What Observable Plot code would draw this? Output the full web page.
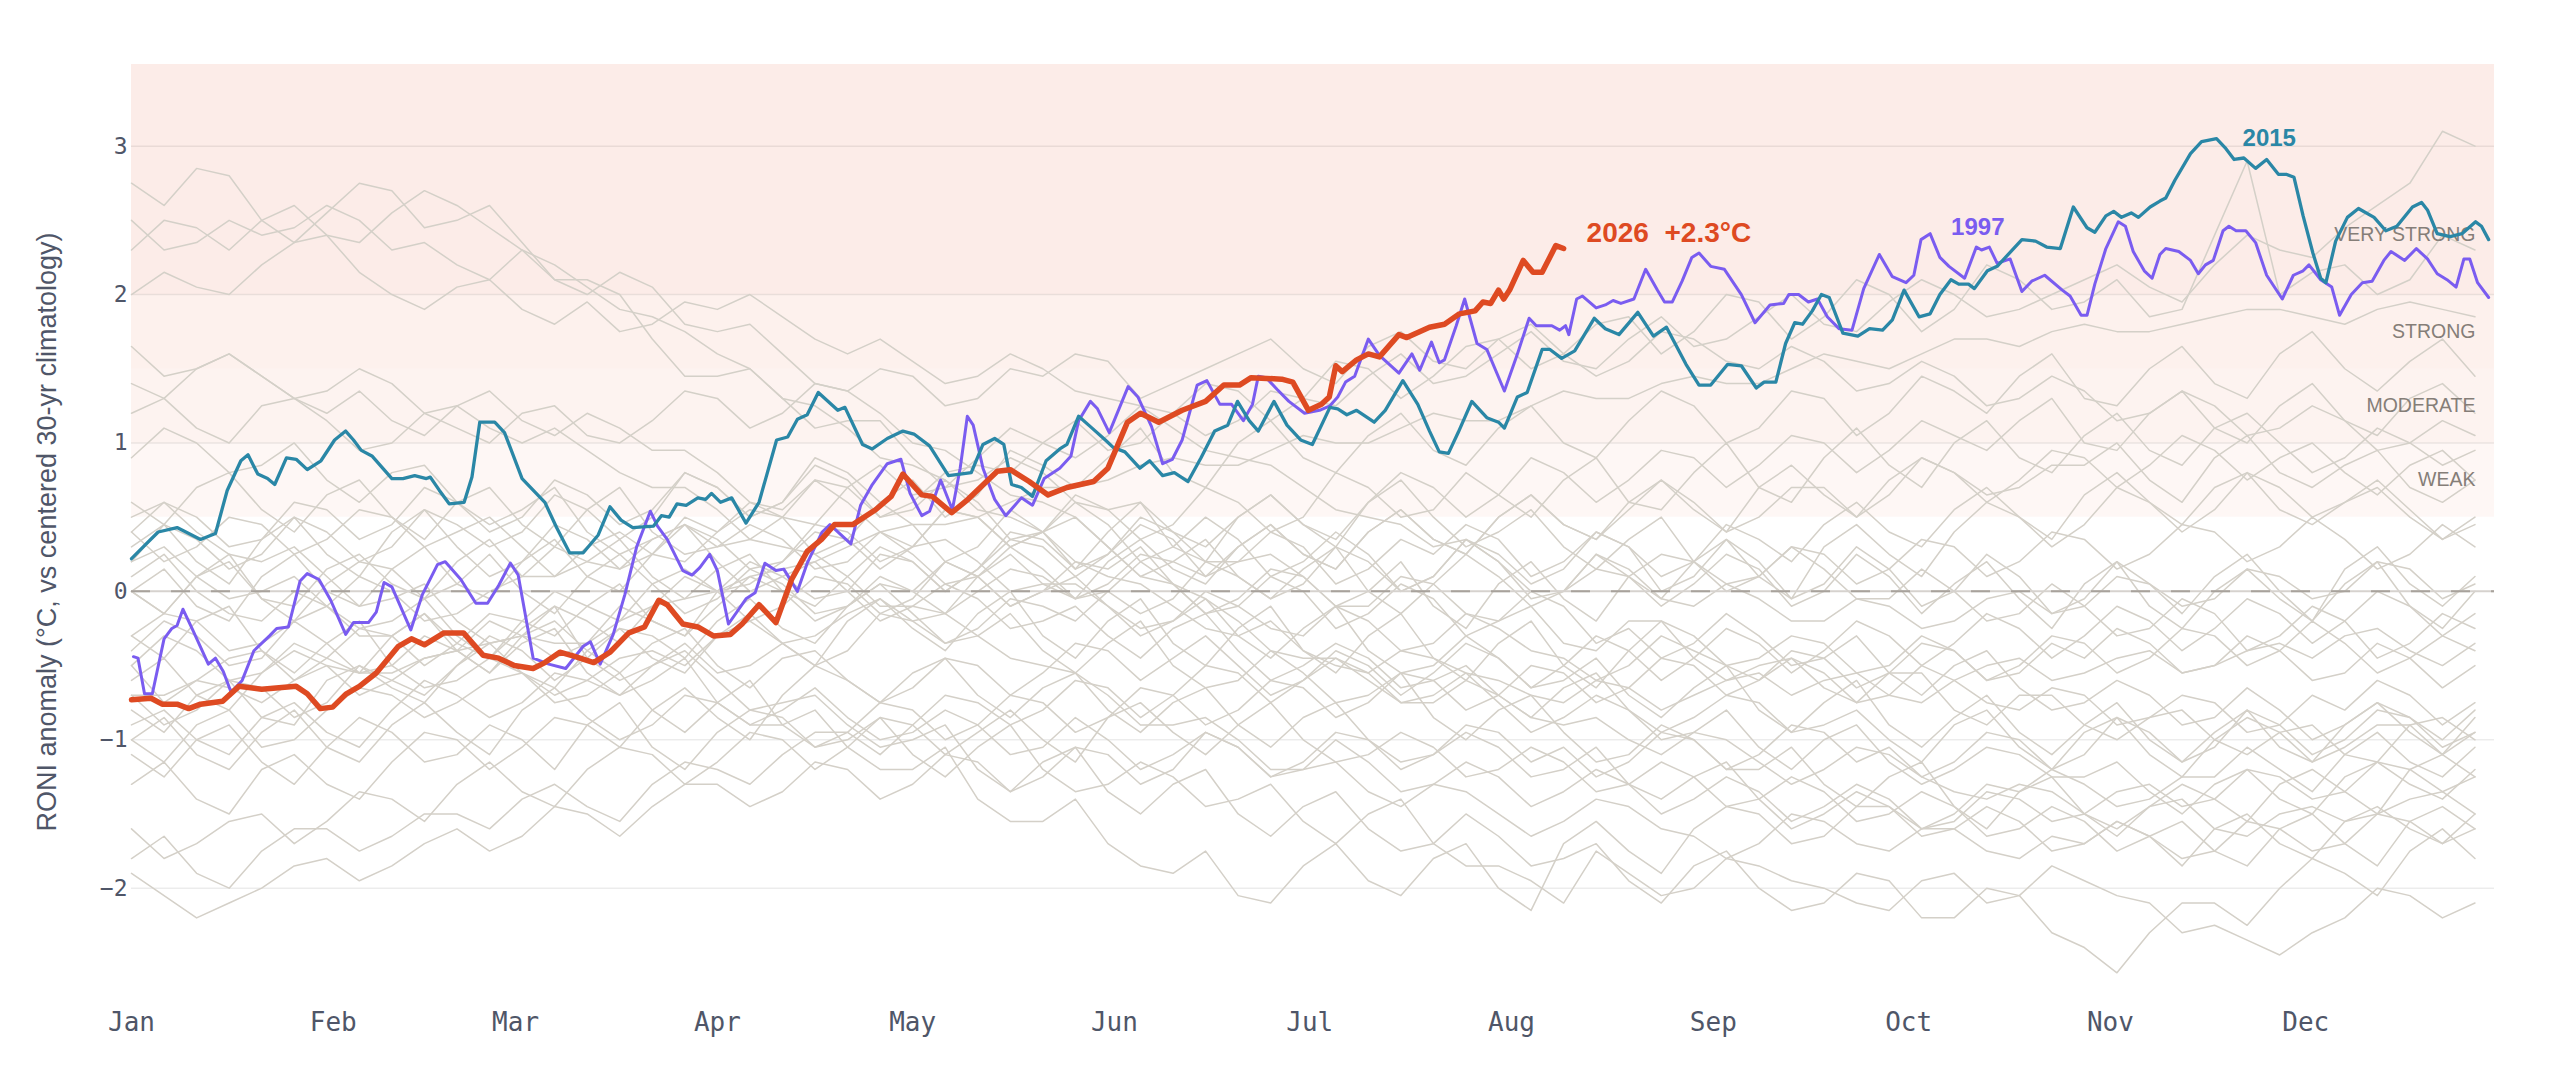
<!DOCTYPE html>
<html>
<head>
<meta charset="utf-8">
<script src="https://cdn.jsdelivr.net/npm/d3@7"></script>
<script src="https://cdn.jsdelivr.net/npm/@observablehq/plot@0.6"></script>
<style>
  html, body { margin: 0; padding: 0; background: #ffffff; }
  #chart { width: 2560px; height: 1090px; }
</style>
</head>
<body>
<div id="chart"></div>
<script>
// ---------- axis / category data ----------
const monthNames = ["Jan","Feb","Mar","Apr","May","Jun","Jul","Aug","Sep","Oct","Nov","Dec"];
const monthStart = [0,31,59,90,120,151,181,212,243,273,304,334];
const yTicks = [-2,-1,0,1,2,3];
const yTitle = "RONI anomaly (°C, vs centered 30-yr climatology)";

// strength bands (°C)
const bandNames = ["WEAK","MODERATE","STRONG","VERY STRONG"];
const bandLo = [0.5, 1.0, 1.5, 2.0];
const bandHi = [1.0, 1.5, 2.0, 3.55];
const bandLabelY = [0.75, 1.25, 1.75, 2.4];

// ---------- highlighted years (day of year, anomaly) ----------
const days2026 = [0,3,4.7,7,8.8,10.6,14,16.5,20,25.3,27,29,30.9,33,35,37.6,41,43,45,48,51,54,56.4,58.8,61.7,63.5,65.8,68.2,71,73.5,76.4,78.8,81,82.3,84.7,87,89.4,92,93.8,96.4,99,101.4,103.8,106,108,110.8,114.3,116.7,118.5,121.4,123,126,128.5,133,135,137.9,140.8,143.7,147.8,150,153,155,157.8,161.4,165,167.8,170.2,172,176.7,178.4,180.8,182.8,184,185,186,188.2,190,191.7,194.7,195.9,199.4,201.7,204,206.4,207.6,208.8,210,210.8,211.7,213.8,215.3,216.7,218.8,220];
const vals2026 = [-0.73,-0.72,-0.76,-0.76,-0.79,-0.76,-0.74,-0.64,-0.66,-0.64,-0.69,-0.79,-0.78,-0.69,-0.64,-0.55,-0.37,-0.32,-0.36,-0.28,-0.28,-0.43,-0.45,-0.50,-0.52,-0.48,-0.41,-0.44,-0.48,-0.41,-0.28,-0.24,-0.06,-0.09,-0.22,-0.24,-0.30,-0.29,-0.22,-0.09,-0.21,0.08,0.27,0.35,0.45,0.45,0.55,0.64,0.79,0.65,0.64,0.53,0.62,0.81,0.82,0.74,0.65,0.70,0.74,0.83,1.14,1.20,1.14,1.22,1.28,1.39,1.39,1.44,1.43,1.41,1.22,1.26,1.31,1.52,1.48,1.56,1.60,1.58,1.73,1.71,1.78,1.80,1.87,1.89,1.95,1.94,2.03,1.97,2.03,2.23,2.15,2.15,2.33,2.31];

const days1997 = [0.3,1,2,3.2,5,6.2,7,7.9,9.4,11.8,12.9,14.1,15.3,17,18.8,21.2,22.3,24.1,25.9,27,28.8,30.6,32.9,34.1,36.4,37.6,38.8,40,42.9,44.7,47,48.2,50.6,52.9,54.7,56.4,58.2,59.4,61.7,64.1,66.7,69.4,70.5,72,74,75.8,77.6,79.7,80.8,82.3,84.7,86.1,87.3,88.8,90,91.7,94.4,95.8,97.3,99,100.2,102.3,103.8,106.1,107.3,109,110.5,112,113.8,116.1,118.2,119.6,121.4,122.6,124.3,126.1,127.3,128.4,129.3,130.8,132.6,134.3,136.7,138.4,140.2,142.6,144.3,145.5,147.3,148.4,150.2,153.1,154.6,156.7,158.4,159.9,161.4,163.7,165.2,167.2,169,170.8,172.2,173.1,174.3,176,177.8,180.2,182.5,184.1,185.3,186.5,187.9,190,191.7,194.7,196.7,197.9,199.7,200.9,201.7,203.5,204.8,206.7,208.2,210.9,212.9,214.7,215.8,218.2,219.4,220.3,220.8,222,222.9,225,226.4,227.6,228.8,230.8,232.6,234.4,235.5,236.7,238.2,239.7,240.8,242.6,244.7,247.3,249.4,251.7,253.8,254.6,256.1,257.6,259,260.5,262.3,264.3,266.1,268.5,270.5,272.6,273.8,274.9,276.3,277.8,279.2,281.6,283.4,284.2,285.4,286.6,288.6,290.4,291.9,293.9,296.6,297.8,299.5,300.4,301.6,303.3,305.2,306.3,307.5,309.2,310.4,311.6,312.5,314.5,316.3,317.5,318.6,319.8,321.3,322.2,323.3,324.8,326.3,328,330.4,332.1,333.6,334.5,336.3,338,339.2,341,342.7,344.2,346,347.1,349.2,351,352.7,354.2,355.7,357.1,358.3,359.2,360.4,362.1];
const vals1997 = [-0.44,-0.45,-0.69,-0.69,-0.32,-0.25,-0.23,-0.12,-0.26,-0.49,-0.45,-0.54,-0.68,-0.60,-0.40,-0.30,-0.25,-0.24,0.07,0.12,0.08,-0.06,-0.29,-0.21,-0.21,-0.14,0.06,0.03,-0.26,-0.02,0.18,0.20,0.08,-0.08,-0.08,0.04,0.19,0.11,-0.45,-0.49,-0.52,-0.37,-0.34,-0.49,-0.29,-0.02,0.30,0.54,0.44,0.35,0.14,0.11,0.16,0.25,0.14,-0.22,-0.05,-0.01,0.19,0.14,0.15,0.00,0.19,0.40,0.45,0.38,0.32,0.58,0.72,0.86,0.89,0.66,0.51,0.54,0.75,0.55,0.83,1.18,1.12,0.83,0.62,0.51,0.63,0.58,0.76,0.83,0.91,1.15,1.28,1.23,1.07,1.38,1.31,1.11,0.86,0.89,1.02,1.39,1.42,1.26,1.26,1.15,1.26,1.45,1.44,1.36,1.28,1.20,1.22,1.25,1.31,1.41,1.45,1.70,1.59,1.47,1.60,1.49,1.68,1.54,1.56,1.79,1.97,1.67,1.63,1.35,1.60,1.84,1.79,1.79,1.76,1.79,1.73,1.97,1.99,1.91,1.93,1.96,1.94,1.97,2.17,2.03,1.95,1.95,2.09,2.25,2.28,2.19,2.17,2.00,1.81,1.93,1.94,2.00,2.00,1.95,1.97,1.85,1.77,1.76,2.04,2.27,2.12,2.08,2.13,2.37,2.41,2.25,2.19,2.11,2.32,2.30,2.32,2.21,2.24,2.02,2.09,2.13,2.03,1.99,1.86,1.86,2.07,2.31,2.49,2.46,2.29,2.16,2.11,2.27,2.31,2.29,2.23,2.14,2.20,2.23,2.43,2.46,2.43,2.43,2.35,2.13,1.97,2.13,2.16,2.20,2.10,2.05,1.86,2.00,2.08,2.09,2.23,2.29,2.23,2.31,2.24,2.14,2.10,2.05,2.24,2.24,2.08,1.98];

const days2015 = [0,1.8,4.1,7,8.8,10.6,12.9,14.7,16.8,17.9,19.4,20.9,22,23.8,25.3,27,29.1,31.2,32.9,34.1,35.3,37,40,41.7,43.5,45.3,45.9,47.3,48.8,51.1,52.3,53.5,55.8,57.3,60,63.5,65.3,67.3,69.4,71.7,73.5,75.2,77,80.2,81.4,82.6,83.8,85.2,87,88.2,89.1,90.5,92.2,94.4,96.4,99.1,100.8,102.3,103.8,105.5,108.5,109.6,112.3,113.8,116.1,118.5,120.2,122.6,125.5,127.3,129,130.8,132.6,134,135.2,136.7,138.4,140.5,142.6,143.7,145.5,147.3,149.6,150.8,152.6,154.9,156.4,158.4,160.2,162.3,164.3,166.4,168.4,169.9,171.7,173.1,175.5,177.5,179.6,181.4,184.1,185.3,186.7,188.2,190.9,192.6,195.3,197.6,199.4,200.9,202.3,203.8,205.9,208.2,210,210.9,212.9,214.4,216.7,217.9,219.7,221.7,224.7,226.4,228.5,231.4,233.8,235.8,238.8,240.8,242.6,245.2,247.3,249.6,250.8,252.6,254.1,255.5,256.7,258.2,259.6,260.8,262.9,265.2,267,269,270.5,272.3,274.6,276.3,277.8,279.5,280.7,282.2,283.1,285.1,286.6,290.4,292.5,294.2,296.3,298.3,300.4,301.6,303.3,304.5,305.7,307.2,308.3,310.1,311.6,312.5,313.9,316.3,318,320.3,321.6,323,324.5,326.3,328,329.8,331,332.2,333.6,335.1,336.3,337.1,338.6,340.4,342.1,344.5,346.3,348,350.4,351.8,352.7,354.2,356.2,358,360.1,361,362.1];
const vals2015 = [0.22,0.30,0.40,0.43,0.39,0.35,0.39,0.68,0.88,0.92,0.79,0.76,0.72,0.90,0.89,0.82,0.88,1.02,1.08,1.02,0.95,0.91,0.76,0.76,0.78,0.76,0.77,0.68,0.59,0.60,0.77,1.14,1.14,1.07,0.76,0.60,0.43,0.26,0.26,0.38,0.57,0.48,0.43,0.44,0.51,0.50,0.59,0.58,0.63,0.62,0.66,0.60,0.63,0.46,0.60,1.02,1.04,1.16,1.19,1.34,1.22,1.24,0.99,0.96,1.03,1.08,1.06,0.98,0.78,0.79,0.80,0.99,1.03,0.99,0.72,0.70,0.64,0.88,0.96,0.99,1.18,1.11,1.02,0.97,0.94,0.83,0.88,0.78,0.80,0.74,0.90,1.08,1.12,1.28,1.15,1.08,1.28,1.12,1.02,0.99,1.24,1.23,1.19,1.22,1.14,1.22,1.42,1.26,1.08,0.94,0.93,1.07,1.28,1.17,1.14,1.10,1.31,1.34,1.63,1.63,1.57,1.62,1.84,1.77,1.73,1.88,1.72,1.78,1.53,1.39,1.39,1.53,1.52,1.37,1.41,1.41,1.67,1.81,1.80,1.89,2.00,1.98,1.74,1.72,1.77,1.76,1.83,2.03,1.85,1.87,2.00,2.10,2.07,2.07,2.04,2.16,2.19,2.37,2.36,2.32,2.31,2.59,2.45,2.42,2.53,2.56,2.52,2.55,2.52,2.59,2.63,2.65,2.77,2.95,3.03,3.05,2.99,2.91,2.92,2.85,2.91,2.81,2.81,2.79,2.53,2.28,2.11,2.08,2.36,2.52,2.58,2.52,2.43,2.46,2.59,2.62,2.57,2.41,2.39,2.41,2.49,2.46,2.37];

// ---------- other years (every 5 days) ----------
const grayDays = [0,5,10,15,20,25,30,35,40,45,50,55,60,65,70,75,80,85,90,95,100,105,110,115,120,125,130,135,140,145,150,155,160,165,170,175,180,185,190,195,200,205,210,215,220,225,230,235,240,245,250,255,260,265,270,275,280,285,290,295,300,305,310,315,320,325,330,335,340,345,350,355,360];
const gray01 = [2.75,2.6,2.85,2.8,2.5,2.35,2.55,2.75,2.7,2.45,2.5,2.6,2.35,2.1,2.1,2.0,1.7,1.45,1.45,1.5,1.3,1.1,1.15,1.15,0.9,0.7,0.75,0.9,0.8,0.6,0.55,0.6,0.4,0.2,0.2,0.25,0.1,-0.1,-0.1,0.1,0.05,-0.15,-0.2,-0.1,-0.35,-0.4,-0.2,-0.2,-0.45,-0.6,-0.5,-0.45,-0.65,-0.75,-0.55,-0.55,-0.8,-0.9,-0.7,-0.7,-0.9,-1.0,-0.85,-0.8,-1.0,-1.1,-0.95,-0.9,-1.1,-1.15,-0.9,-0.85,-1.0];
const gray02 = [2.3,2.5,2.45,2.3,2.5,2.6,2.4,2.35,2.55,2.7,2.6,2.45,2.3,2.1,2.0,2.15,2.05,1.8,1.75,1.8,1.6,1.4,1.35,1.2,1.0,0.95,0.8,0.65,0.6,0.5,0.3,0.1,0.05,-0.05,-0.2,-0.4,-0.45,-0.45,-0.6,-0.75,-0.75,-0.6,-0.7,-0.85,-0.9,-0.85,-1.0,-1.1,-0.95,-1.0,-1.15,-1.3,-1.2,-1.05,-1.1,-1.25,-1.35,-1.4,-1.3,-1.35,-1.5,-1.6,-1.45,-1.4,-1.6,-1.65,-1.5,-1.45,-1.55,-1.5,-1.4,-1.35,-1.5];
const gray03 = [2.5,2.3,2.35,2.5,2.4,2.45,2.6,2.5,2.3,2.35,2.2,2.1,2.3,2.2,2.05,1.9,1.85,1.75,1.6,1.5,1.3,1.25,1.1,0.9,0.85,0.75,0.55,0.5,0.4,0.2,0.1,0.05,-0.1,-0.25,-0.3,-0.2,-0.4,-0.5,-0.55,-0.4,-0.45,-0.55,-0.6,-0.7,-0.75,-0.6,-0.65,-0.8,-0.7,-0.6,-0.55,-0.7,-0.6,-0.55,-0.7,-0.75,-0.6,-0.5,-0.45,-0.6,-0.55,-0.45,-0.4,-0.55,-0.5,-0.4,-0.35,-0.45,-0.3,-0.25,-0.4,-0.5,-0.35];
const gray04 = [2.0,2.15,2.05,2.0,2.2,2.35,2.4,2.15,2.0,1.9,2.05,2.1,1.9,1.8,1.95,1.75,1.8,1.95,1.9,2.0,1.85,1.7,1.6,1.7,1.55,1.4,1.45,1.6,1.5,1.35,1.3,1.25,1.1,0.95,0.9,0.85,0.7,0.55,0.5,0.45,0.3,0.35,0.2,0.0,0.0,0.15,0.1,-0.05,-0.1,0.05,-0.05,-0.2,-0.2,-0.05,-0.1,-0.25,-0.2,-0.05,0.0,-0.15,-0.1,0.1,0.05,-0.1,-0.05,0.15,0.1,-0.05,0.0,0.2,0.15,-0.05,0.05];
const gray05 = [1.65,1.45,1.5,1.6,1.45,1.3,1.35,1.5,1.4,1.2,1.25,1.35,1.15,1.05,1.2,1.1,0.95,0.95,0.8,0.6,0.55,0.75,0.6,0.4,0.3,0.35,0.2,0.0,0.05,0.05,-0.1,-0.25,-0.2,0.0,-0.1,-0.25,-0.3,-0.1,-0.2,-0.4,-0.35,-0.15,-0.25,-0.4,-0.45,-0.6,-0.5,-0.3,-0.4,-0.5,-0.6,-0.45,-0.55,-0.75,-0.7,-0.5,-0.6,-0.75,-0.8,-0.65,-0.7,-0.9,-0.85,-0.7,-0.75,-0.95,-0.9,-0.7,-0.8,-0.6,-0.7,-0.9,-0.75];
const gray06 = [1.4,1.3,1.5,1.6,1.45,1.3,1.2,1.35,1.15,1.05,1.25,1.1,1.0,1.1,0.95,0.8,0.7,0.7,0.55,0.35,0.3,0.25,0.1,-0.1,-0.1,-0.15,-0.3,-0.45,-0.5,-0.55,-0.7,-0.9,-0.9,-0.85,-1.0,-1.2,-1.2,-1.15,-1.35,-1.45,-1.3,-1.35,-1.5,-1.65,-1.55,-1.4,-1.45,-1.6,-1.65,-1.8,-1.7,-1.5,-1.55,-1.7,-1.75,-1.6,-1.6,-1.75,-1.8,-1.65,-1.7,-1.55,-1.65,-1.8,-1.75,-1.55,-1.6,-1.75,-1.7,-1.5,-1.55,-1.7,-1.6];
const gray07 = [1.2,1.3,1.1,1.0,1.25,1.3,1.15,0.95,1.0,1.2,1.1,1.0,1.2,1.25,1.05,1.0,1.15,1.35,1.3,1.1,1.2,1.4,1.35,1.5,1.45,1.25,1.3,1.5,1.45,1.6,1.55,1.3,1.4,1.5,1.6,1.7,1.5,1.4,1.65,1.75,1.55,1.5,1.7,1.8,1.6,1.45,1.55,1.75,1.7,1.55,1.5,1.65,1.55,1.35,1.4,1.55,1.45,1.25,1.3,1.45,1.35,1.15,1.2,1.35,1.25,1.05,1.1,1.25,1.15,0.95,1.0,1.15,1.05];
const gray08 = [0.0,-0.15,0.1,0.2,-0.05,-0.1,0.15,0.25,0.05,-0.05,0.2,0.35,0.1,0.1,0.3,0.4,0.25,0.2,0.4,0.55,0.5,0.45,0.7,0.85,0.65,0.7,0.9,1.1,1.0,0.9,1.05,1.25,1.2,1.05,1.15,1.35,1.3,1.25,1.45,1.6,1.4,1.45,1.6,1.75,1.55,1.5,1.7,1.85,1.65,1.7,1.85,2.0,1.8,1.75,1.95,2.1,2.0,1.85,1.9,2.0,2.1,2.2,2.05,1.95,2.2,2.4,2.3,2.25,2.45,2.6,2.75,3.1,3.0];
const gray09 = [-0.3,-0.15,-0.2,-0.4,-0.35,-0.2,-0.1,0.1,0.0,-0.2,-0.15,0.0,0.1,0.3,0.2,0.15,0.35,0.45,0.3,0.35,0.5,0.75,0.7,0.5,0.6,0.8,0.85,0.8,1.0,1.15,0.95,1.0,1.2,1.4,1.35,1.15,1.3,1.55,1.5,1.3,1.45,1.65,1.7,1.5,1.6,1.8,1.85,1.6,1.75,2.0,1.95,1.7,1.85,2.1,2.0,1.75,1.9,2.2,2.1,1.9,1.95,2.1,1.85,1.9,2.4,2.9,2.0,2.15,2.2,2.0,2.1,2.4,2.3];
const gray10 = [0.2,0.45,0.35,0.15,0.25,0.5,0.4,0.2,0.3,0.55,0.45,0.3,0.4,0.65,0.55,0.35,0.5,0.8,0.7,0.5,0.6,0.9,0.8,0.6,0.75,0.5,0.65,0.95,0.85,0.7,0.9,1.1,0.8,0.7,1.0,1.15,0.9,0.8,1.05,1.2,0.95,0.85,1.1,1.25,1.0,0.9,1.15,1.35,1.25,1.0,1.1,1.35,1.3,1.05,1.2,1.45,1.35,1.2,1.45,1.6,1.3,1.25,1.5,1.65,1.4,1.3,1.6,1.75,1.5,1.35,1.55,1.7,1.45];
const gray11 = [-0.7,-0.7,-0.6,-0.65,-0.75,-0.6,-0.5,-0.55,-0.55,-0.45,-0.4,-0.35,-0.3,-0.35,-0.35,-0.2,-0.1,-0.05,0.0,0.1,0.15,0.2,0.3,0.4,0.45,0.45,0.5,0.6,0.7,0.7,0.75,0.85,0.9,0.85,0.85,0.95,1.05,1.0,1.0,1.1,1.2,1.15,1.15,1.25,1.35,1.3,1.3,1.4,1.45,1.4,1.4,1.5,1.6,1.55,1.5,1.6,1.7,1.7,1.65,1.75,1.8,1.75,1.75,1.8,1.85,1.9,1.9,1.85,1.8,1.9,1.95,1.9,1.85];
const gray12 = [0.0,0.15,-0.1,-0.2,0.1,0.25,0.0,-0.1,0.15,0.3,0.05,-0.05,0.2,0.35,0.1,0.0,0.25,0.45,0.35,0.15,0.2,0.45,0.4,0.2,0.3,0.55,0.5,0.3,0.4,0.65,0.55,0.35,0.45,0.7,0.6,0.4,0.5,0.8,0.7,0.5,0.55,0.8,0.65,0.5,0.75,0.9,0.6,0.55,0.8,1.0,0.7,0.6,0.9,1.1,0.85,0.7,1.0,1.15,0.9,0.8,1.05,1.2,0.95,0.85,1.1,1.2,1.0,0.8,0.9,1.1,1.0,0.85,0.95];
const gray13 = [-0.5,-0.75,-0.6,-0.45,-0.4,-0.6,-0.45,-0.25,-0.3,-0.5,-0.35,-0.15,-0.2,-0.3,-0.1,0.05,-0.2,-0.3,0.0,0.2,0.1,-0.05,0.0,0.25,0.2,0.0,0.15,0.35,0.3,0.1,0.25,0.5,0.4,0.3,0.5,0.65,0.45,0.35,0.6,0.8,0.7,0.5,0.65,0.9,0.8,0.6,0.75,0.95,0.9,0.7,0.85,1.05,1.0,0.8,0.95,1.15,1.05,0.95,1.15,1.3,1.0,0.95,1.2,1.35,1.1,1.0,1.25,1.4,1.15,1.05,1.3,1.4,1.2];
const gray14 = [-0.8,-0.95,-0.7,-0.6,-0.85,-0.9,-0.6,-0.5,-0.65,-0.75,-0.5,-0.3,-0.4,-0.6,-0.45,-0.25,-0.3,-0.45,-0.2,-0.05,-0.25,-0.35,-0.1,0.05,0.0,-0.15,0.1,0.25,0.05,-0.05,0.2,0.35,0.15,0.05,0.3,0.45,0.25,0.15,0.4,0.55,0.35,0.25,0.5,0.65,0.45,0.35,0.55,0.75,0.6,0.4,0.5,0.7,0.7,0.5,0.65,0.9,0.8,0.6,0.75,0.95,0.9,0.7,0.85,1.05,0.95,0.75,0.9,1.0,0.8,0.65,0.85,0.95,0.75];
const gray15 = [-0.9,-0.8,-1.0,-1.1,-0.85,-0.75,-0.95,-1.05,-0.8,-0.6,-0.7,-0.85,-0.75,-0.55,-0.6,-0.7,-0.5,-0.35,-0.55,-0.5,-0.35,-0.5,-0.4,-0.15,-0.2,-0.35,-0.25,-0.05,-0.1,-0.2,0.0,-0.15,-0.05,0.2,0.1,-0.05,0.05,0.3,0.2,0.0,0.1,0.35,0.25,0.05,0.15,0.4,0.3,0.1,0.2,0.45,0.35,0.2,0.45,0.6,0.4,0.3,0.55,0.7,0.5,0.35,0.65,0.8,0.6,0.45,0.7,0.8,0.55,0.45,0.6,0.7,0.5,0.35,0.45];
const gray16 = [0.3,0.45,0.2,0.05,0.35,0.5,0.25,0.1,0.4,0.55,0.3,0.1,0.2,0.45,0.35,0.15,0.25,0.5,0.4,0.6,0.5,0.25,0.35,0.6,0.45,0.2,0.3,0.55,0.4,0.15,0.25,0.45,0.35,0.1,0.2,0.4,0.3,0.05,0.15,0.35,0.25,0.45,0.35,0.1,0.2,0.4,0.3,0.0,0.1,0.35,0.2,-0.05,0.05,0.3,0.15,-0.1,0.0,0.25,0.1,-0.15,-0.05,0.2,0.05,-0.15,0.1,0.25,0.0,-0.2,0.15,0.3,0.05,-0.1,0.1];
const gray17 = [-0.6,-0.45,-0.7,-0.8,-0.55,-0.4,-0.5,-0.7,-0.6,-0.45,-0.4,-0.2,-0.3,-0.45,-0.35,-0.1,-0.2,-0.3,-0.1,0.1,0.0,-0.1,0.1,0.3,0.2,0.0,0.15,0.4,0.35,0.15,0.4,0.6,0.3,0.2,0.5,0.65,0.45,0.3,0.6,0.75,0.5,0.3,0.4,0.55,0.3,0.15,0.35,0.5,0.2,0.05,0.1,0.3,0.15,-0.05,-0.05,0.15,0.0,-0.2,-0.15,0.05,-0.1,-0.3,-0.25,-0.05,-0.15,-0.4,-0.3,-0.1,-0.2,-0.45,-0.35,-0.15,-0.25];
const gray18 = [-0.5,-0.3,-0.4,-0.6,-0.55,-0.35,-0.45,-0.55,-0.3,-0.15,-0.35,-0.45,-0.2,0.0,-0.1,-0.2,0.05,0.15,0.0,0.05,0.2,0.4,0.35,0.15,0.3,0.55,0.5,0.3,0.4,0.5,0.3,0.1,0.2,0.35,0.1,-0.05,0.15,0.3,0.0,-0.15,0.05,0.25,0.1,-0.1,0.0,0.25,0.15,-0.05,0.2,0.35,0.1,-0.05,0.3,0.45,0.25,0.1,0.4,0.6,0.5,0.3,0.45,0.7,0.6,0.4,0.55,0.8,0.7,0.5,0.6,0.75,0.55,0.35,0.5];
const gray19 = [0.4,0.6,0.5,0.3,0.35,0.6,0.55,0.35,0.45,0.7,0.6,0.4,0.5,0.75,0.65,0.45,0.55,0.8,0.7,0.5,0.6,0.85,0.75,0.5,0.55,0.75,0.6,0.35,0.4,0.6,0.45,0.2,0.3,0.5,0.35,0.1,0.2,0.4,0.25,0.0,0.1,0.35,0.2,-0.05,0.0,0.25,0.1,-0.1,0.05,0.25,0.15,-0.1,0.0,0.25,0.1,-0.15,0.05,0.2,-0.05,-0.25,0.05,0.2,-0.1,-0.25,0.0,0.15,-0.05,-0.2,0.05,0.2,-0.1,-0.25,0.0];
const gray20 = [-0.7,-0.9,-0.8,-0.6,-0.65,-0.85,-0.75,-0.5,-0.6,-0.7,-0.5,-0.35,-0.55,-0.65,-0.4,-0.25,-0.45,-0.55,-0.3,-0.15,-0.35,-0.5,-0.2,-0.05,-0.25,-0.4,-0.15,0.0,-0.3,-0.45,-0.2,-0.05,-0.35,-0.5,-0.25,-0.1,-0.4,-0.55,-0.3,-0.15,-0.45,-0.6,-0.35,-0.2,-0.5,-0.65,-0.4,-0.2,-0.3,-0.5,-0.45,-0.3,-0.35,-0.55,-0.5,-0.3,-0.4,-0.6,-0.55,-0.35,-0.45,-0.25,-0.35,-0.55,-0.5,-0.3,-0.4,-0.6,-0.55,-0.35,-0.45,-0.65,-0.5];
const gray21 = [0.9,1.1,1.0,0.8,0.85,1.0,0.75,0.6,0.8,0.85,0.6,0.45,0.55,0.7,0.4,0.25,0.35,0.45,0.2,0.0,0.1,0.2,0.0,-0.2,-0.1,0.05,-0.05,-0.25,-0.2,-0.1,-0.3,-0.45,-0.25,-0.15,-0.4,-0.6,-0.5,-0.35,-0.45,-0.65,-0.6,-0.5,-0.7,-0.85,-0.65,-0.55,-0.8,-0.95,-0.85,-0.7,-0.75,-0.95,-0.9,-0.8,-1.0,-1.15,-0.9,-0.8,-1.05,-1.2,-0.95,-0.85,-1.1,-1.25,-1.0,-0.85,-0.95,-1.15,-1.05,-0.9,-0.9,-1.1,-0.95];
const gray22 = [0.6,0.45,0.7,0.8,0.55,0.4,0.65,0.75,0.5,0.35,0.6,0.7,0.45,0.3,0.55,0.7,0.4,0.25,0.3,0.45,0.35,0.15,0.2,0.4,0.25,0.05,0.1,0.3,0.15,-0.05,0.0,0.2,0.05,-0.15,-0.1,0.1,0.0,-0.25,-0.15,0.05,-0.05,-0.3,-0.2,0.0,-0.1,-0.35,-0.25,-0.45,-0.35,-0.15,-0.3,-0.5,-0.45,-0.3,-0.55,-0.7,-0.5,-0.4,-0.65,-0.8,-0.75,-0.6,-0.7,-0.9,-0.85,-0.65,-0.8,-1.0,-0.9,-0.75,-0.85,-1.0,-0.8];
const gray23 = [0.5,0.6,0.4,0.25,0.2,0.3,0.1,-0.1,-0.05,0.05,-0.2,-0.35,-0.3,-0.2,-0.4,-0.55,-0.35,-0.25,-0.5,-0.65,-0.45,-0.4,-0.6,-0.75,-0.55,-0.45,-0.7,-0.85,-0.65,-0.55,-0.8,-0.95,-0.75,-0.65,-0.9,-1.05,-0.85,-0.75,-1.0,-1.15,-1.1,-0.95,-1.05,-1.25,-1.2,-1.05,-1.3,-1.4,-1.25,-1.15,-1.4,-1.6,-1.5,-1.35,-1.45,-1.65,-1.6,-1.45,-1.55,-1.75,-1.7,-1.55,-1.65,-1.85,-1.6,-1.5,-1.7,-1.8,-1.55,-1.45,-1.6,-1.7,-1.5];
const gray24 = [0.2,0.3,0.1,-0.05,0.0,0.1,-0.1,-0.25,-0.2,-0.05,-0.3,-0.45,-0.25,-0.1,-0.45,-0.6,-0.5,-0.4,-0.6,-0.8,-0.75,-0.7,-0.9,-1.05,-1.0,-0.9,-1.2,-1.35,-1.15,-1.05,-1.35,-1.5,-1.3,-1.2,-1.5,-1.65,-1.45,-1.35,-1.6,-1.75,-1.7,-1.5,-1.65,-1.85,-1.8,-1.7,-1.95,-2.1,-1.85,-1.75,-2.0,-2.15,-2.1,-1.9,-1.95,-2.2,-2.2,-2.0,-2.05,-2.3,-2.4,-2.57,-2.3,-2.1,-2.1,-2.25,-2.0,-1.8,-1.9,-2.05,-1.75,-1.6,-1.8];
const gray25 = [-1.6,-1.8,-1.7,-1.55,-1.5,-1.7,-1.55,-1.35,-1.4,-1.55,-1.3,-1.15,-1.35,-1.45,-1.2,-1.05,-1.1,-1.3,-1.15,-0.95,-1.0,-1.2,-1.05,-0.85,-0.9,-1.1,-0.95,-0.8,-1.0,-1.15,-0.85,-0.75,-0.95,-1.1,-0.9,-0.75,-1.0,-1.15,-1.1,-0.95,-1.05,-1.25,-1.2,-1.05,-1.15,-1.35,-1.3,-1.15,-1.25,-1.45,-1.4,-1.25,-1.35,-1.55,-1.5,-1.35,-1.45,-1.65,-1.6,-1.45,-1.55,-1.75,-1.65,-1.55,-1.75,-1.85,-1.6,-1.5,-1.7,-1.85,-1.55,-1.45,-1.6];
const gray26 = [-1.8,-1.65,-1.9,-2.0,-1.75,-1.6,-1.6,-1.75,-1.65,-1.5,-1.5,-1.6,-1.4,-1.3,-1.45,-1.55,-1.3,-1.15,-1.2,-1.3,-1.1,-0.95,-0.95,-1.1,-0.9,-0.7,-0.75,-0.9,-0.8,-0.6,-0.65,-0.85,-0.7,-0.5,-0.55,-0.75,-0.6,-0.4,-0.5,-0.7,-0.55,-0.35,-0.45,-0.65,-0.5,-0.3,-0.4,-0.6,-0.45,-0.25,-0.35,-0.55,-0.4,-0.2,-0.3,-0.5,-0.35,-0.15,-0.25,-0.45,-0.3,-0.1,-0.2,-0.4,-0.25,-0.05,-0.15,-0.35,-0.2,0.0,-0.1,-0.3,-0.15];
const gray27 = [-1.3,-1.15,-1.4,-1.5,-1.2,-1.1,-1.3,-1.4,-1.15,-0.95,-1.0,-1.2,-1.05,-0.85,-0.9,-1.05,-0.8,-0.65,-0.85,-1.0,-0.7,-0.5,-0.6,-0.75,-0.65,-0.45,-0.5,-0.7,-0.55,-0.35,-0.4,-0.6,-0.45,-0.3,-0.5,-0.7,-0.6,-0.45,-0.55,-0.75,-0.7,-0.55,-0.75,-0.95,-0.85,-0.7,-0.8,-1.0,-0.95,-0.8,-1.05,-1.2,-1.0,-0.9,-1.15,-1.3,-1.2,-1.05,-1.1,-1.25,-1.25,-1.15,-1.35,-1.5,-1.3,-1.2,-1.4,-1.5,-1.25,-1.15,-1.3,-1.4,-1.2];
const gray28 = [-1.0,-0.85,-1.1,-1.2,-0.95,-0.8,-1.05,-1.15,-0.9,-0.75,-0.95,-1.1,-0.8,-0.65,-0.85,-1.0,-0.9,-0.7,-0.75,-0.9,-0.8,-0.65,-0.85,-1.0,-0.95,-0.8,-0.9,-1.1,-1.05,-0.85,-1.0,-1.2,-1.1,-0.95,-1.05,-1.25,-1.2,-1.0,-1.15,-1.35,-1.3,-1.15,-1.25,-1.45,-1.35,-1.2,-1.3,-1.5,-1.4,-1.25,-1.35,-1.55,-1.45,-1.3,-1.4,-1.6,-1.5,-1.3,-1.35,-1.2,-1.3,-1.45,-1.4,-1.25,-1.25,-1.05,-1.2,-1.35,-1.1,-0.95,-1.15,-1.25,-1.05];
const gray29 = [-1.1,-1.25,-1.0,-0.9,-1.15,-1.3,-1.05,-0.85,-0.95,-1.15,-1.1,-0.9,-1.0,-1.2,-0.9,-0.75,-1.05,-1.2,-0.95,-0.8,-0.85,-1.05,-0.95,-0.75,-0.8,-1.0,-0.9,-0.7,-0.75,-0.95,-0.85,-0.65,-0.7,-0.9,-0.8,-0.6,-0.65,-0.85,-0.75,-0.55,-0.6,-0.8,-0.7,-0.5,-0.55,-0.75,-0.65,-0.45,-0.5,-0.7,-0.6,-0.4,-0.45,-0.65,-0.55,-0.35,-0.4,-0.6,-0.5,-0.3,-0.35,-0.55,-0.45,-0.25,-0.3,-0.5,-0.4,-0.2,-0.35,-0.55,-0.45,-0.3,-0.4];
const gray30 = [-0.4,-0.2,-0.3,-0.5,-0.45,-0.2,-0.35,-0.55,-0.5,-0.3,-0.4,-0.55,-0.3,-0.1,-0.2,-0.35,-0.1,0.1,0.0,-0.2,-0.1,0.1,0.05,-0.15,-0.05,0.2,0.1,-0.1,0.0,0.1,-0.1,-0.3,-0.2,-0.05,-0.3,-0.45,-0.25,-0.1,-0.4,-0.55,-0.5,-0.3,-0.45,-0.65,-0.6,-0.45,-0.7,-0.85,-0.65,-0.5,-0.8,-0.95,-0.75,-0.6,-0.9,-1.05,-0.85,-0.7,-0.95,-1.1,-0.9,-0.75,-1.0,-1.15,-0.95,-0.8,-1.05,-1.15,-0.9,-0.75,-0.95,-1.1,-0.85];
const gray31 = [0.4,0.2,0.3,0.5,0.45,0.25,0.35,0.55,0.5,0.3,0.4,0.5,0.3,0.1,0.2,0.35,0.1,-0.05,0.15,0.25,0.0,-0.2,-0.1,0.05,-0.15,-0.35,-0.3,-0.15,-0.4,-0.55,-0.35,-0.2,-0.5,-0.65,-0.6,-0.4,-0.55,-0.75,-0.7,-0.55,-0.85,-1.0,-0.8,-0.7,-0.95,-1.15,-1.1,-0.9,-1.0,-1.2,-1.2,-1.05,-1.3,-1.45,-1.25,-1.15,-1.45,-1.6,-1.35,-1.25,-1.5,-1.65,-1.45,-1.3,-1.4,-1.55,-1.3,-1.2,-1.35,-1.5,-1.2,-1.1,-1.25];
const gray32 = [-1.9,-2.05,-2.2,-2.1,-2.0,-1.85,-1.8,-1.95,-1.85,-1.7,-1.6,-1.75,-1.65,-1.45,-1.5,-1.65,-1.45,-1.3,-1.3,-1.45,-1.35,-1.15,-1.2,-1.4,-1.3,-1.1,-1.15,-1.35,-1.25,-1.05,-1.1,-1.3,-1.2,-0.95,-1.05,-1.25,-1.15,-0.95,-1.0,-1.2,-1.1,-0.9,-0.95,-1.15,-1.05,-1.25,-1.15,-0.95,-1.0,-1.2,-1.1,-0.9,-0.95,-1.15,-1.05,-1.25,-1.15,-0.95,-1.0,-1.2,-1.1,-0.85,-0.95,-1.15,-1.05,-0.8,-0.9,-1.1,-1.0,-0.8,-0.85,-1.05,-0.95];
const gray33 = [-0.3,-0.45,-0.2,-0.1,-0.4,-0.55,-0.35,-0.2,-0.5,-0.65,-0.6,-0.45,-0.55,-0.75,-0.7,-0.55,-0.8,-0.95,-0.75,-0.6,-0.9,-1.05,-1.0,-0.85,-1.1,-1.25,-1.05,-0.9,-1.2,-1.35,-1.3,-1.15,-1.25,-1.45,-1.4,-1.3,-1.55,-1.7,-1.5,-1.4,-1.7,-1.85,-1.85,-1.95,-2.1,-1.75,-1.9,-2.05,-2.0,-1.8,-1.85,-1.95,-2.0,-2.1,-2.15,-1.95,-1.9,-2.1,-2.05,-1.85,-1.95,-2.05,-2.1,-2.3,-2.25,-2.35,-2.45,-2.3,-2.2,-2.0,-2.05,-2.2,-2.1];
const gray34 = [0.1,0.25,0.0,-0.15,-0.2,0.0,-0.1,-0.3,-0.3,-0.15,-0.4,-0.55,-0.35,-0.25,-0.55,-0.7,-0.6,-0.45,-0.75,-0.9,-0.9,-0.8,-1.05,-1.2,-1.2,-1.05,-1.4,-1.55,-1.55,-1.4,-1.7,-1.85,-1.9,-1.75,-2.05,-2.1,-1.85,-1.7,-1.95,-2.05,-1.8,-1.7,-2.0,-2.15,-1.7,-1.55,-1.75,-1.9,-1.6,-1.45,-1.5,-1.7,-1.65,-1.45,-1.45,-1.6,-1.55,-1.35,-1.4,-1.55,-1.5,-1.35,-1.3,-1.45,-1.4,-1.2,-1.25,-1.4,-1.35,-1.15,-1.2,-1.35,-1.25];
const gray35 = [0.0,-0.15,0.1,0.25,-0.05,-0.2,0.05,0.2,0.15,-0.05,0.05,0.25,0.0,-0.15,0.1,0.25,0.05,-0.15,-0.05,0.15,0.05,-0.15,-0.1,0.1,0.0,0.2,0.1,-0.1,0.0,0.2,0.15,0.3,0.05,-0.15,-0.05,0.15,0.1,-0.1,0.0,0.2,-0.1,-0.25,0.05,0.2,-0.05,-0.2,0.1,0.25,0.2,0.0,0.1,0.3,0.25,0.05,0.15,0.35,0.3,0.1,0.2,0.4,0.35,0.15,0.25,0.45,0.4,0.2,0.3,0.5,0.35,0.15,0.25,0.45,0.3];
const gray36 = [-1.0,-1.15,-0.9,-0.8,-1.05,-1.0,-0.8,-0.65,-0.7,-0.85,-0.75,-0.6,-0.55,-0.7,-0.6,-0.45,-0.4,-0.5,-0.3,-0.2,-0.35,-0.3,-0.15,-0.05,-0.2,-0.15,0.0,0.15,0.1,-0.05,0.05,0.25,0.2,0.1,0.3,0.45,0.25,0.15,0.4,0.55,0.35,0.25,0.5,0.65,0.45,0.35,0.6,0.75,0.55,0.4,0.7,0.85,0.65,0.5,0.75,0.9,0.8,0.65,0.7,0.85,0.85,1.0,0.75,0.6,0.9,1.05,0.8,0.7,0.85,0.95,0.7,0.6,0.75];

const graySeries = [gray01,gray02,gray03,gray04,gray05,gray06,gray07,gray08,gray09,gray10,gray11,gray12,
  gray13,gray14,gray15,gray16,gray17,gray18,gray19,gray20,gray21,gray22,gray23,gray24,
  gray25,gray26,gray27,gray28,gray29,gray30,gray31,gray32,gray33,gray34,gray35,gray36];

// ---------- styles ----------
const C2026 = "#de4a22", C1997 = "#7a5cf0", C2015 = "#2a87a6";
const GRAY = "#d4d0c8";
const INK = "#4f5668";
const bandFill = ["rgba(224,73,31,0.045)","rgba(224,73,31,0.065)","rgba(224,73,31,0.08)","rgba(224,73,31,0.10)"];
const SANS = "'Liberation Sans', Arial, Helvetica, sans-serif";
const MONO = "'DejaVu Sans Mono', monospace";

// ---------- tables ----------
const yDomain = [-2.75, 3.55];
const bands = bandNames.map((name, i) => ({name, lo: bandLo[i], hi: bandHi[i], mid: bandLabelY[i], fill: bandFill[i]}));
const grayRows = [];
graySeries.forEach((vals, s) => vals.forEach((v, i) => {
  if (grayDays[i] !== undefined) grayRows.push({s, day: grayDays[i], v});
}));
const toRows = (days, vals) => days.map((d, i) => ({day: d, v: vals[i]}));
const r2026 = toRows(days2026, vals2026);
const r1997 = toRows(days1997, vals1997);
const r2015 = toRows(days2015, vals2015);

const last2026 = r2026[r2026.length - 1];
const label2026 = `2026\u00a0\u00a0+${last2026.v.toFixed(1)}°C`;
const peak2015 = r2015.reduce((a, b) => (b.v > a.v ? b : a));
const at1997 = r1997.reduce((a, b) => (Math.abs(b.day - 276.3) < Math.abs(a.day - 276.3) ? b : a));

const chart = Plot.plot({
  width: 2560,
  height: 1090,
  marginLeft: 131,
  marginRight: 66,
  marginTop: 64,
  marginBottom: 91,
  style: {background: "#ffffff", fontFamily: SANS, overflow: "visible"},
  x: {domain: [0, 363]},
  y: {domain: yDomain},
  marks: [
    Plot.rect(bands, {y1: "lo", y2: "hi", fill: "fill"}),
    Plot.ruleY(yTicks.filter(d => d !== 0), {stroke: "#000", strokeOpacity: 0.075, strokeWidth: 1.5}),
    Plot.axisY({ticks: yTicks, tickSize: 0, tickPadding: 4, label: null,
      tickFormat: d => (d < 0 ? "\u2212" + Math.abs(d) : String(d)),
      fontSize: 23, fontFamily: MONO, fill: INK}),
    Plot.axisX({ticks: monthStart, tickSize: 0, tickPadding: 13, label: null,
      tickFormat: d => monthNames[monthStart.indexOf(d)],
      fontSize: 26, fontFamily: MONO, fill: INK}),
    Plot.text([yTitle], {text: d => d, frameAnchor: "left", dx: -84, rotate: -90,
      textAnchor: "middle", fontSize: 27, fontFamily: SANS, fill: INK}),
    Plot.line(grayRows, {x: "day", y: "v", z: "s", stroke: GRAY, strokeWidth: 1.5, strokeLinejoin: "round"}),
    Plot.ruleY([0], {stroke: "#d6d2ce", strokeWidth: 2}),
    Plot.ruleY([0], {stroke: "#a8a29c", strokeWidth: 2, strokeDasharray: "19,21"}),
    Plot.text(bands, {y: "mid", text: "name", frameAnchor: "right", dx: -19, textAnchor: "end",
      fontSize: 19.5, fontFamily: SANS, fill: "#857e78"}),
    Plot.line(r1997, {x: "day", y: "v", stroke: C1997, strokeWidth: 3, strokeLinejoin: "round"}),
    Plot.line(r2015, {x: "day", y: "v", stroke: C2015, strokeWidth: 3.3, strokeLinejoin: "round"}),
    Plot.line(r2026, {x: "day", y: "v", stroke: C2026, strokeWidth: 5.5, strokeLinejoin: "round", strokeLinecap: "round"}),
    Plot.text([at1997], {x: "day", y: "v", text: () => "1997", dx: 21, dy: -6, textAnchor: "start",
      fontSize: 24, fontWeight: "bold", fontFamily: SANS, fill: C1997}),
    Plot.text([peak2015], {x: "day", y: "v", text: () => "2015", dx: 26, dy: 0, textAnchor: "start",
      fontSize: 24, fontWeight: "bold", fontFamily: SANS, fill: C2015}),
    Plot.text([last2026], {x: "day", y: "v", text: () => label2026, dx: 23, dy: -16, textAnchor: "start",
      fontSize: 28, fontWeight: "bold", fontFamily: SANS, fill: C2026, ariaLabel: "label-2026"})
  ]
});

document.getElementById("chart").appendChild(chart);

// semi-transparent box behind the 2026 label
const lbl = chart.querySelector('g[aria-label="label-2026"] text');
if (lbl) {
  const bb = lbl.getBBox();
  const ns = "http://www.w3.org/2000/svg";
  const rect = document.createElementNS(ns, "rect");
  rect.setAttribute("x", bb.x - 7);
  rect.setAttribute("y", bb.y - 4);
  rect.setAttribute("width", bb.width + 14);
  rect.setAttribute("height", bb.height + 8);
  rect.setAttribute("fill", "#ffffff");
  rect.setAttribute("fill-opacity", "0.5");
  const tf = lbl.getAttribute("transform");
  if (tf) rect.setAttribute("transform", tf);
  lbl.parentNode.insertBefore(rect, lbl);
}
</script>
</body>
</html>
